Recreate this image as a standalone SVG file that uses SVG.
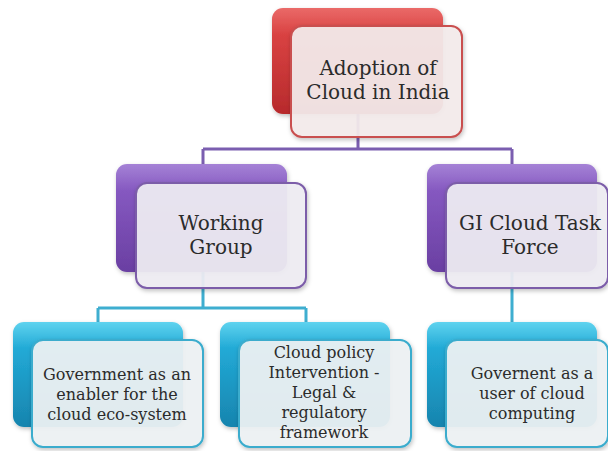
<svg xmlns="http://www.w3.org/2000/svg" width="608" height="451" viewBox="0 0 608 451">
<defs>
<linearGradient id="gRed" x1="0" y1="0" x2="0" y2="1">
<stop offset="0" stop-color="#ea6a68"/><stop offset="0.25" stop-color="#d94242"/><stop offset="1" stop-color="#b72a2c"/>
</linearGradient>
<linearGradient id="gPur" x1="0" y1="0" x2="0" y2="1">
<stop offset="0" stop-color="#a582d6"/><stop offset="0.25" stop-color="#8558c0"/><stop offset="1" stop-color="#6a3fa2"/>
</linearGradient>
<linearGradient id="gCyan" x1="0" y1="0" x2="0" y2="1">
<stop offset="0" stop-color="#5fd3ef"/><stop offset="0.25" stop-color="#22aad6"/><stop offset="1" stop-color="#1784ae"/>
</linearGradient>
<filter id="sh" x="-10%" y="-10%" width="125%" height="130%">
<feDropShadow dx="1" dy="2" stdDeviation="2" flood-color="#000" flood-opacity="0.25"/>
</filter>
<style>
.back{filter:url(#sh)}
.front{stroke-width:2;filter:url(#sh)}
.red .front{fill:#f4ecec;fill-opacity:0.93;stroke:#c9504f}
.pur .front{fill:#efedf3;fill-opacity:0.93;stroke:#7c5da9}
.cyan .front{fill:#eef2f4;fill-opacity:0.93;stroke:#3aaccd}
.red .back{fill:url(#gRed)}
.pur .back{fill:url(#gPur)}
.cyan .back{fill:url(#gCyan)}
text{fill:#2b2b2b;text-anchor:middle;font-family:'DejaVu Serif','Liberation Serif',serif}
.t1{font-size:20px}
.t2{font-size:20px}
.t3{font-size:16px}
.c1{stroke:#7b5eb0;stroke-width:3;fill:none}
.c2{stroke:#3eaed0;stroke-width:3;fill:none}
</style>
</defs>
<g id="connectors">
<path class="c1" d="M358 110 V149 M203 149 H512 M203 149 V170 M512 149 V170"/>
<path class="c2" d="M203 268 V308 M98 308 H306 M98 308 V326 M306 308 V326 M512 268 V326"/>
</g>
<g id="n-adoption" class="red">
<rect class="back" x="272" y="8" width="171" height="106" rx="11"/>
<rect class="front" x="291" y="26" width="171" height="111" rx="11"/>
<text class="t1" x="378" y="75">Adoption of</text>
<text class="t1" x="378" y="99">Cloud in India</text>
</g>
<g id="n-working" class="pur">
<rect class="back" x="116" y="164" width="171" height="108" rx="11"/>
<rect class="front" x="136" y="183" width="170" height="105" rx="11"/>
<text class="t2" x="221" y="230">Working</text>
<text class="t2" x="221" y="254">Group</text>
</g>
<g id="n-gi" class="pur">
<rect class="back" x="427" y="164" width="170" height="108" rx="11"/>
<rect class="front" x="446" y="183" width="162" height="105" rx="11"/>
<text class="t2" x="530" y="230">GI Cloud Task</text>
<text class="t2" x="530" y="254">Force</text>
</g>
<g id="n-enabler" class="cyan">
<rect class="back" x="13" y="322" width="170" height="105" rx="11"/>
<rect class="front" x="32" y="340" width="171" height="107" rx="11"/>
<text class="t3" x="117" y="380">Government as an</text>
<text class="t3" x="117" y="400">enabler for the</text>
<text class="t3" x="117" y="420">cloud eco-system</text>
</g>
<g id="n-policy" class="cyan">
<rect class="back" x="220" y="322" width="170" height="105" rx="11"/>
<rect class="front" x="239" y="340" width="172" height="107" rx="11"/>
<text class="t3" x="324" y="358">Cloud policy</text>
<text class="t3" x="324" y="378">Intervention  -</text>
<text class="t3" x="324" y="398">Legal &amp;</text>
<text class="t3" x="324" y="418">regulatory</text>
<text class="t3" x="324" y="438">framework</text>
</g>
<g id="n-user" class="cyan">
<rect class="back" x="427" y="322" width="170" height="105" rx="11"/>
<rect class="front" x="446" y="340" width="162" height="107" rx="11"/>
<text class="t3" x="532" y="379">Governent as a</text>
<text class="t3" x="532" y="399">user of cloud</text>
<text class="t3" x="532" y="419">computing</text>
</g>
</svg>
